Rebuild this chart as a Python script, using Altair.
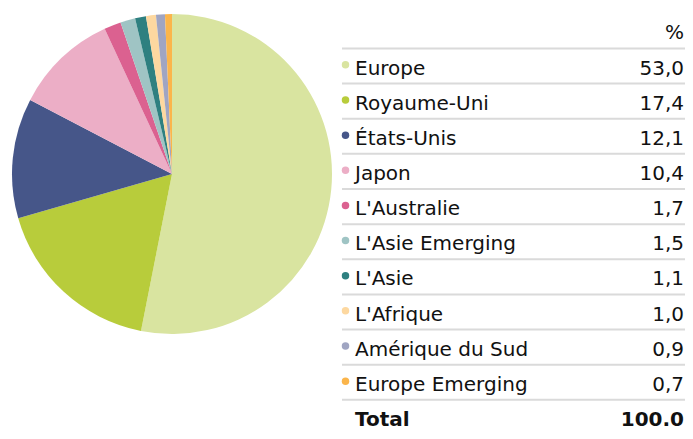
import altair as alt
import pandas as pd

regions = ["Europe", "Royaume-Uni", "États-Unis", "Japon", "L'Australie",
           "L'Asie Emerging", "L'Asie", "L'Afrique", "Amérique du Sud", "Europe Emerging"]
values = [53.0, 17.4, 12.1, 10.4, 1.7, 1.5, 1.1, 1.0, 0.9, 0.7]
colors = ["#d9e4a0", "#b8cc3b", "#465689", "#ecaec6", "#db6190",
          "#9fc4c4", "#2e8080", "#fdd8a0", "#a0a5c2", "#fbb54b"]
title_text = "Répartition géographique actions"
header_text = "%"
total_label = "Total"
total_value = "100.0"

def fr(v):
    return f"{v:.1f}".replace(".", ",")

pie_df = pd.DataFrame({"region": regions, "value": values, "order": list(range(len(regions)))})
rows_df = pd.DataFrame({
    "idx": list(range(1, len(regions) + 1)),
    "region": regions,
    "label": [fr(v) for v in values],
})
lines_df = pd.DataFrame({"idx": list(range(0, len(regions) + 1))})
header_df = pd.DataFrame({"idx": [0], "right": [header_text]})
total_df = pd.DataFrame({"idx": [len(regions) + 1], "left": [total_label], "right": [total_value]})

color_scale = alt.Scale(domain=regions, range=colors)
yscale = alt.Scale(domain=[0, 11], range=[31.4, 418], zero=False, nice=False)
FONT = "DejaVu Sans"
FS = 20
TXT = "#111111"
XR = 676

pie = alt.Chart(pie_df).mark_arc(radius=160).encode(
    theta=alt.Theta("value:Q", stack=True),
    order=alt.Order("order:Q"),
    color=alt.Color("region:N", scale=color_scale, legend=None),
    x=alt.value(164),
    y=alt.value(166),
)

rules = alt.Chart(lines_df).mark_rule(color="#dadada", strokeWidth=2, yOffset=9).encode(
    y=alt.Y("idx:Q", scale=yscale, axis=None),
    x=alt.value(334),
    x2=alt.value(677),
)

dots = alt.Chart(rows_df).mark_circle(size=56, opacity=1, yOffset=-9.7).encode(
    y=alt.Y("idx:Q", scale=yscale, axis=None),
    x=alt.value(337.5),
    color=alt.Color("region:N", scale=color_scale, legend=None),
)

names = alt.Chart(rows_df).mark_text(
    align="left", baseline="alphabetic", font=FONT, fontSize=FS, color=TXT
).encode(
    y=alt.Y("idx:Q", scale=yscale, axis=None),
    x=alt.value(347),
    text="region:N",
)

vals = alt.Chart(rows_df).mark_text(
    align="right", baseline="alphabetic", font=FONT, fontSize=FS, color=TXT
).encode(
    y=alt.Y("idx:Q", scale=yscale, axis=None),
    x=alt.value(XR),
    text="label:N",
)

header = alt.Chart(header_df).mark_text(
    align="right", baseline="alphabetic", font=FONT, fontSize=FS, color=TXT
).encode(
    y=alt.Y("idx:Q", scale=yscale, axis=None),
    x=alt.value(XR),
    text="right:N",
)

total_l = alt.Chart(total_df).mark_text(
    align="left", baseline="alphabetic", font=FONT, fontSize=FS, color=TXT, fontWeight="bold"
).encode(
    y=alt.Y("idx:Q", scale=yscale, axis=None),
    x=alt.value(347),
    text="left:N",
)

total_r = alt.Chart(total_df).mark_text(
    align="right", baseline="alphabetic", font=FONT, fontSize=FS, color=TXT, fontWeight="bold"
).encode(
    y=alt.Y("idx:Q", scale=yscale, axis=None),
    x=alt.value(XR),
    text="right:N",
)

title = alt.Chart(pd.DataFrame({"t": [title_text]})).mark_text(
    align="left", baseline="alphabetic", font=FONT, fontSize=23.5, fontWeight="bold", color=TXT
).encode(
    x=alt.value(5),
    y=alt.value(-6.5),
    text="t:N",
)

chart = alt.layer(pie, rules, dots, names, vals, header, total_l, total_r, title).properties(
    width=677, height=423,
    autosize=alt.AutoSizeParams(type="none"),
    padding=0,
    background="white",
).configure_view(stroke=None)

chart.save("out.html", embed_options={"renderer": "svg", "actions": False})
